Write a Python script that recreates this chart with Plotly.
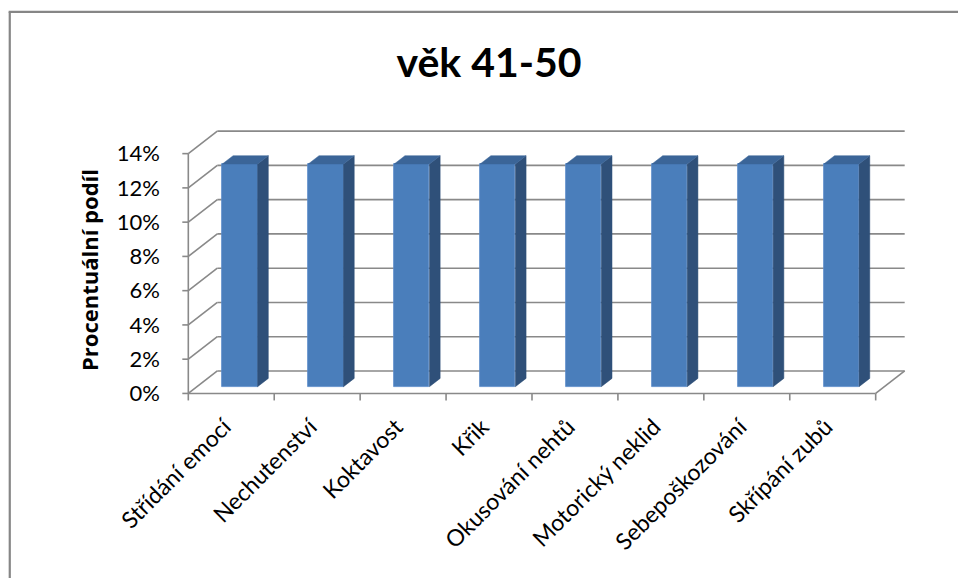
import plotly.graph_objects as go

# --- data -------------------------------------------------------------
categories = [
    "Střídání emocí",
    "Nechutenství",
    "Koktavost",
    "Křik",
    "Okusování nehtů",
    "Motorický neklid",
    "Sebepoškozování",
    "Skřípání zubů",
]
values = [13, 13, 13, 13, 13, 13, 13, 13]  # percent
y_ticks = [0, 2, 4, 6, 8, 10, 12, 14]
y_tick_text = [f"{v}%" for v in y_ticks]
title_text = "věk 41-50"
y_title = "Procentuální podíl"

# --- geometry of the oblique 3-D look ---------------------------------
W, H = 958, 578
PXU = 85.9          # pixels per category unit
PYU = 17.14         # pixels per percent
X0PX, Y0PX = 188, 393.3   # front-left floor corner in pixels
DX = 29 / PXU       # depth offset of the back wall, in x units
DY = 22.5 / PYU     # depth offset of the back wall, in y units
D_FRONT = 0.30      # depth fraction where bar front faces sit
D_BAR = 0.37        # depth fraction occupied by a bar
BAR_W = 0.41        # bar width in category units
LABEL_SHIFT = -0.08  # category label anchor relative to the category centre

n = len(categories)
x_left, x_right = -0.5, n - 0.5
ymax = y_ticks[-1]

# extra room below the floor keeps the axis title centred on the walls
padx_l, padx_r, pady_b, pady_t = 0.12, 0.12, 1.2, 0.3
xr = [x_left - padx_l, x_right + DX + padx_r]
yr = [-pady_b, ymax + DY + pady_t]
m_l = X0PX - padx_l * PXU
plot_w = (xr[1] - xr[0]) * PXU
m_r = W - m_l - plot_w
m_b = H - (Y0PX + pady_b * PYU)
plot_h = (yr[1] - yr[0]) * PYU
m_t = H - m_b - plot_h

FRONT = "#4A7EBB"
SIDE = "#2F5079"
TOP = "#3B6598"
GRID = "#898989"

fig = go.Figure()

# bar front faces
base = D_FRONT * DY
fig.add_trace(go.Bar(
    x=list(range(n)), y=values, base=base,
    width=BAR_W, offset=-BAR_W / 2 + D_FRONT * DX,
    marker=dict(color=FRONT, line=dict(color="#5A8CC9", width=0.8)),
    hoverinfo="skip", showlegend=False,
))

# side and top faces of each bar
sx, sy, tx, ty = [], [], [], []
for i, v in enumerate(values):
    xl = i - BAR_W / 2 + D_FRONT * DX
    xrr = xl + BAR_W
    ddx, ddy = D_BAR * DX, D_BAR * DY
    top = base + v
    sx += [xrr, xrr + ddx, xrr + ddx, xrr, xrr, None]
    sy += [base, base + ddy, top + ddy, top, base, None]
    tx += [xl, xrr, xrr + ddx, xl + ddx, xl, None]
    ty += [top, top, top + ddy, top + ddy, top, None]
fig.add_trace(go.Scatter(x=sx, y=sy, fill="toself", fillcolor=SIDE, mode="lines",
                         line=dict(color=SIDE, width=0.5), hoverinfo="skip", showlegend=False))
fig.add_trace(go.Scatter(x=tx, y=ty, fill="toself", fillcolor=TOP, mode="lines",
                         line=dict(color=TOP, width=0.5), hoverinfo="skip", showlegend=False))

# walls, floor and tick marks
shapes = []
gl = dict(color=GRID, width=1.6)
for v in y_ticks:
    shapes.append(dict(type="line", x0=x_left + DX, x1=x_right + DX, y0=v + DY, y1=v + DY,
                       xref="x", yref="y", line=gl, layer="below"))
    shapes.append(dict(type="line", x0=x_left, x1=x_left + DX, y0=v, y1=v + DY,
                       xref="x", yref="y", line=gl, layer="below"))
    shapes.append(dict(type="line", x0=x_left - 6 / PXU, x1=x_left, y0=v, y1=v,
                       xref="x", yref="y", line=gl, layer="below"))
shapes.append(dict(type="line", x0=x_left, x1=x_left, y0=0, y1=ymax,
                   xref="x", yref="y", line=gl, layer="below"))
shapes.append(dict(type="line", x0=x_left, x1=x_right, y0=0, y1=0,
                   xref="x", yref="y", line=gl, layer="below"))
shapes.append(dict(type="line", x0=x_right, x1=x_right + DX, y0=0, y1=DY,
                   xref="x", yref="y", line=gl, layer="below"))
for k in range(n + 1):
    xb = x_left + k
    shapes.append(dict(type="line", x0=xb, x1=xb, y0=0, y1=-7 / PYU,
                       xref="x", yref="y", line=gl, layer="below"))

# outer chart frame (top and left edges fall inside the page)
def px_to_paper(px, py):
    return (px - m_l) / plot_w, ((H - m_b) - py) / plot_h

fx0, fy0 = px_to_paper(9.5, 11.5)
fx1, fy1 = px_to_paper(W + 5, H + 5)
frame = dict(color="#868686", width=2.2)
shapes.append(dict(type="line", xref="paper", yref="paper", x0=fx0 - 0.0015, x1=fx1, y0=fy0, y1=fy0, line=frame))
shapes.append(dict(type="line", xref="paper", yref="paper", x0=fx0, x1=fx0, y0=fy0, y1=fy1, line=frame))

fig.update_layout(
    width=W, height=H,
    margin=dict(l=m_l, r=m_r, t=m_t, b=m_b, autoexpand=False),
    paper_bgcolor="white", plot_bgcolor="white",
    font=dict(family="Lato, Carlito, Calibri, sans-serif", color="#000000"),
    title=dict(text=f"<b>{title_text}</b>", x=489 / W, xref="container", xanchor="center",
               y=1 - 63 / H, yref="container", yanchor="middle",
               font=dict(size=41, color="#000000")),
    xaxis=dict(range=xr, showgrid=False, zeroline=False, showline=False,
               tickvals=[i + LABEL_SHIFT for i in range(n)], ticktext=categories, tickangle=-45,
               ticks="", ticklabelstandoff=-6, tickfont=dict(size=23), fixedrange=True),
    yaxis=dict(range=yr, showgrid=False, zeroline=False, showline=False,
               tickvals=y_ticks, ticktext=y_tick_text, ticks="",
               ticklabelstandoff=17, tickfont=dict(size=22),
               title=dict(text=f"<b>{y_title}</b>",
                          font=dict(size=22, family="Open Sans, sans-serif"), standoff=12),
               fixedrange=True),
    shapes=shapes,
    bargap=0,
)

fig.write_html("out.html")
